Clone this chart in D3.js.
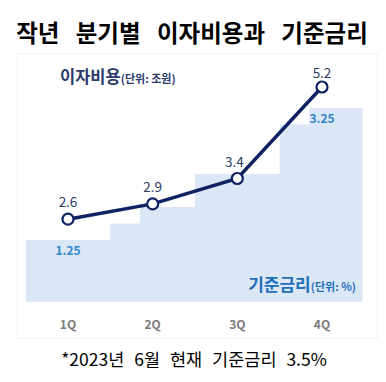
<!DOCTYPE html>
<html>
<head>
<meta charset="utf-8">
<script src="https://cdn.jsdelivr.net/npm/d3@7"></script>
<style>
  body { margin: 0; background: #fff; }
  text { font-family: "Noto Sans CJK KR", "Noto Sans", sans-serif; }
</style>
</head>
<body>
<script>
// quarters and interest expense (조원)
const quarters = ["1Q", "2Q", "3Q", "4Q"];
const interestCost = [2.6, 2.9, 3.4, 5.2];

// base rate steps: start position (in quarter units) and rate (%)
const stepStarts = [0.5, 1.5, 1.85, 2.5, 3.5, 3.85];
const stepRates = [1.25, 1.5, 1.75, 2.25, 3.0, 3.25];
const stepEnd = 4.48;
const labeledRates = [
  { pos: 1, rate: 1.25, label: "1.25" },
  { pos: 4, rate: 3.25, label: "3.25" },
];

const width = 386;
const height = 382;

const svg = d3.select("body").append("svg")
  .attr("width", width)
  .attr("height", height);

// faint panel
svg.append("rect")
  .attr("x", 17.5).attr("y", 53.5)
  .attr("width", 360).attr("height", 285)
  .attr("fill", "#fff")
  .attr("stroke", "#f1f3f6");

const x = d3.scaleLinear().domain([1, 4]).range([68, 322]);
const yCost = d3.scaleLinear().domain([1, 5.2]).range([300.5, 87]);
const yRate = d3.scaleLinear().domain([1, 3.25]).range([256.5, 108]);
const bottom = 302;

// base rate stair area
const stepData = stepStarts.map((s, i) => ({ pos: s, rate: stepRates[i] }));
stepData.push({ pos: stepEnd, rate: stepRates[stepRates.length - 1] });

const area = d3.area()
  .curve(d3.curveStepAfter)
  .x(d => x(d.pos))
  .y0(bottom)
  .y1(d => yRate(d.rate));

svg.append("path")
  .datum(stepData)
  .attr("d", area)
  .attr("fill", "#dce7f5");

svg.selectAll(".rateLabel")
  .data(labeledRates)
  .join("text")
  .attr("class", "rateLabel")
  .attr("x", d => x(d.pos))
  .attr("y", d => yRate(d.rate) + 14.5)
  .attr("text-anchor", "middle")
  .attr("font-size", 12)
  .attr("font-weight", "bold")
  .attr("fill", "#2f88cc")
  .text(d => d.label);

// interest cost line
const line = d3.line()
  .x((d, i) => x(i + 1))
  .y(d => yCost(d));

svg.append("path")
  .datum(interestCost)
  .attr("d", line)
  .attr("fill", "none")
  .attr("stroke", "#0f2362")
  .attr("stroke-width", 3.5);

svg.selectAll(".dot")
  .data(interestCost)
  .join("circle")
  .attr("class", "dot")
  .attr("cx", (d, i) => x(i + 1))
  .attr("cy", d => yCost(d))
  .attr("r", 5.5)
  .attr("fill", "#fff")
  .attr("stroke", "#0f2362")
  .attr("stroke-width", 2.2);

svg.selectAll(".costLabel")
  .data(interestCost)
  .join("text")
  .attr("class", "costLabel")
  .attr("x", (d, i) => x(i + 1) - (i === 2 ? 3 : 0))
  .attr("y", (d, i) => yCost(d) - (i === 3 ? 9 : 12))
  .attr("text-anchor", "middle")
  .attr("font-size", 13.5)
  .attr("fill", "#2b3a62")
  .text(d => d.toFixed(1));

// x axis labels
svg.selectAll(".qLabel")
  .data(quarters)
  .join("text")
  .attr("class", "qLabel")
  .attr("x", (d, i) => x(i + 1))
  .attr("y", 329)
  .attr("text-anchor", "middle")
  .attr("font-size", 12)
  .attr("font-weight", "bold")
  .attr("fill", "#7a7a7a")
  .text(d => d);

// series titles
const costTitle = svg.append("text")
  .attr("x", 60).attr("y", 83)
  .attr("fill", "#2b3a6a")
  .attr("font-weight", "bold");
costTitle.append("tspan").attr("font-size", 16.5).text("이자비용");
costTitle.append("tspan").attr("font-size", 11).text("(단위: 조원)");

const rateTitle = svg.append("text")
  .attr("x", 356).attr("y", 291)
  .attr("text-anchor", "end")
  .attr("fill", "#1f70ba")
  .attr("font-weight", "bold");
rateTitle.append("tspan").attr("font-size", 17).text("기준금리");
rateTitle.append("tspan").attr("font-size", 11).text("(단위: %)");

// title
svg.append("text")
  .attr("x", 192).attr("y", 42)
  .attr("text-anchor", "middle")
  .attr("font-size", 23.5)
  .attr("font-weight", "bold")
  .attr("fill", "#000")
  .attr("word-spacing", 11)
  .text("작년 분기별 이자비용과 기준금리");

// footnote
svg.append("text")
  .attr("x", 194).attr("y", 366)
  .attr("text-anchor", "middle")
  .attr("font-size", 17.5)
  .attr("fill", "#000")
  .attr("word-spacing", 6)
  .text("*2023년 6월 현재 기준금리 3.5%");
</script>
</body>
</html>
